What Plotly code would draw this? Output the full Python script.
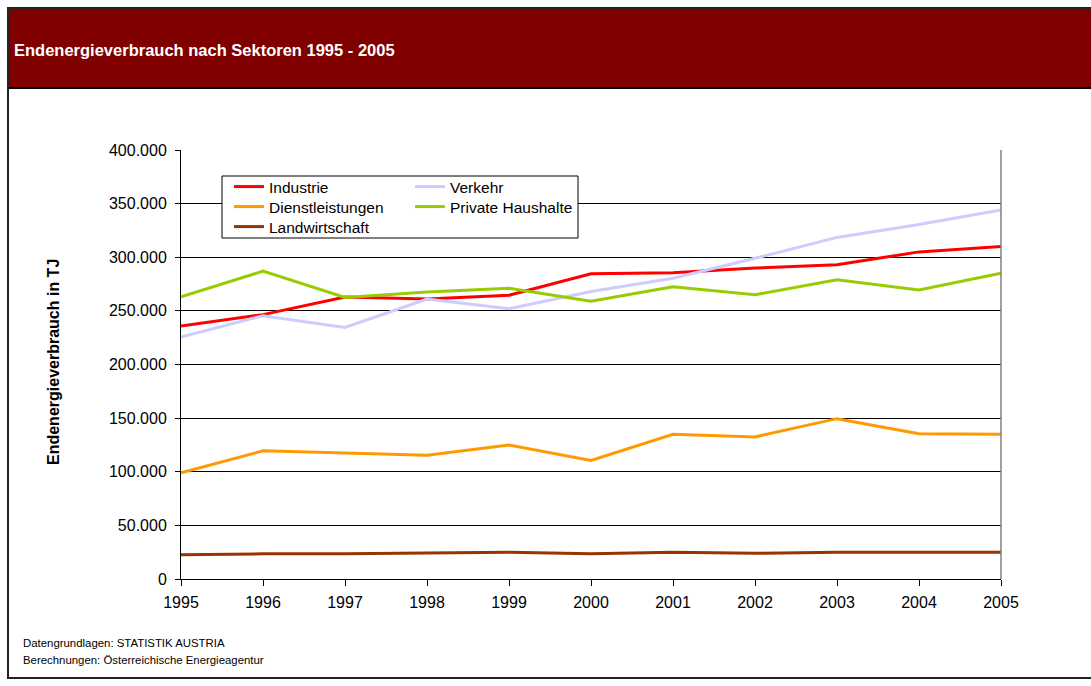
import plotly.graph_objects as go

# Final energy consumption by sector, Austria (TJ)
years = [1995, 1996, 1997, 1998, 1999, 2000, 2001, 2002, 2003, 2004, 2005]
industrie = [236000, 246500, 263000, 261000, 264500, 284500, 285500, 290000, 293000, 305000, 310000]
verkehr = [225500, 245500, 234500, 261000, 252000, 268000, 280500, 299000, 318500, 330500, 344000]
dienstleistungen = [99000, 119500, 117500, 115500, 125000, 110500, 135000, 132500, 149500, 135500, 135000]
haushalte = [263000, 287000, 262500, 267500, 271000, 259000, 272500, 265000, 279000, 269500, 285000]
landwirtschaft = [22500, 23500, 23500, 24000, 25000, 23500, 25000, 24000, 25000, 25000, 25000]

W, H = 1091, 686
ML, MR, MT, MB = 181, 90, 150, 107
PW, PH = W - ML - MR, H - MT - MB
FONT = "Arial, Liberation Sans, sans-serif"


def px_x(px):
    return (px - ML) / PW


def px_y(py):
    return (H - MB - py) / PH


series = [
    ("Industrie", industrie, "#FF0000", "legend"),
    ("Verkehr", verkehr, "#CCCCFF", "legend"),
    ("Dienstleistungen", dienstleistungen, "#FF9900", "legend2"),
    ("Private Haushalte", haushalte, "#99CC00", "legend2"),
    ("Landwirtschaft", landwirtschaft, "#993300", "legend3"),
]

fig = go.Figure()
for name, vals, color, leg in series:
    fig.add_trace(go.Scatter(
        x=years, y=vals, name=name, mode="lines",
        line=dict(color=color, width=3),
        legend=leg, cliponaxis=False,
    ))

legend_common = dict(
    orientation="h", xanchor="left", yanchor="middle",
    x=px_x(229), bgcolor="rgba(0,0,0,0)", borderwidth=0,
    font=dict(family=FONT, size=15.5, color="#000000"),
    entrywidth=136, entrywidthmode="pixels", itemwidth=30,
)

shapes = [
    # header band
    dict(type="rect", xref="paper", yref="paper",
         x0=px_x(8), x1=px_x(W + 5), y0=px_y(8), y1=px_y(88),
         fillcolor="#800000", line=dict(color="#000000", width=2), layer="below"),
    # outer frame
    dict(type="rect", xref="paper", yref="paper",
         x0=px_x(8), x1=px_x(W + 5), y0=px_y(8), y1=px_y(678),
         fillcolor="rgba(0,0,0,0)", line=dict(color="#222222", width=2), layer="below"),
    # right border of plot area
    dict(type="line", xref="paper", yref="paper",
         x0=1, x1=1, y0=0, y1=1, line=dict(color="#808080", width=1.5), layer="above"),
    # legend box
    dict(type="rect", xref="paper", yref="paper",
         x0=px_x(222), x1=px_x(578), y0=px_y(176), y1=px_y(238),
         fillcolor="#FFFFFF", line=dict(color="#000000", width=1), layer="above"),
]

annotations = [
    dict(text="<b>Endenergieverbrauch nach Sektoren 1995 - 2005</b>",
         xref="paper", yref="paper", x=px_x(12), y=px_y(50),
         xanchor="left", yanchor="middle", showarrow=False,
         font=dict(family=FONT, size=16.5, color="#FFFFFF")),
    dict(text="<b>Endenergieverbrauch in TJ</b>",
         xref="paper", yref="paper", x=px_x(53), y=px_y(362),
         xanchor="center", yanchor="middle", textangle=-90, showarrow=False,
         font=dict(family=FONT, size=16, color="#000000")),
    dict(text="Datengrundlagen: STATISTIK AUSTRIA",
         xref="paper", yref="paper", x=px_x(21), y=px_y(643),
         xanchor="left", yanchor="middle", showarrow=False,
         font=dict(family=FONT, size=11.4, color="#000000")),
    dict(text="Berechnungen: Österreichische Energieagentur",
         xref="paper", yref="paper", x=px_x(21), y=px_y(660),
         xanchor="left", yanchor="middle", showarrow=False,
         font=dict(family=FONT, size=11.4, color="#000000")),
]

fig.update_layout(
    width=W, height=H,
    margin=dict(l=ML, r=MR, t=MT, b=MB, autoexpand=False),
    paper_bgcolor="#FFFFFF", plot_bgcolor="#FFFFFF",
    separators=",.",
    showlegend=True,
    legend=dict(legend_common, y=px_y(187)),
    legend2=dict(legend_common, y=px_y(207)),
    legend3=dict(legend_common, y=px_y(227)),
    shapes=shapes,
    annotations=annotations,
    xaxis=dict(
        range=[1995, 2005], tickmode="array", tickvals=years,
        ticktext=[str(y) for y in years],
        showgrid=False, zeroline=False,
        showline=True, linecolor="#000000", linewidth=1,
        ticks="outside", ticklen=6, tickcolor="#000000",
        ticklabelstandoff=3,
        tickfont=dict(family=FONT, size=16, color="#000000"),
    ),
    yaxis=dict(
        range=[0, 400000], tick0=0, dtick=50000, tickformat=",d",
        showgrid=True, gridcolor="#000000", gridwidth=1, zeroline=False,
        showline=True, linecolor="#000000", linewidth=1,
        ticks="outside", ticklen=5, tickcolor="#000000",
        ticklabelstandoff=5,
        tickfont=dict(family=FONT, size=16, color="#000000"),
    ),
)

fig.write_html("out.html")
